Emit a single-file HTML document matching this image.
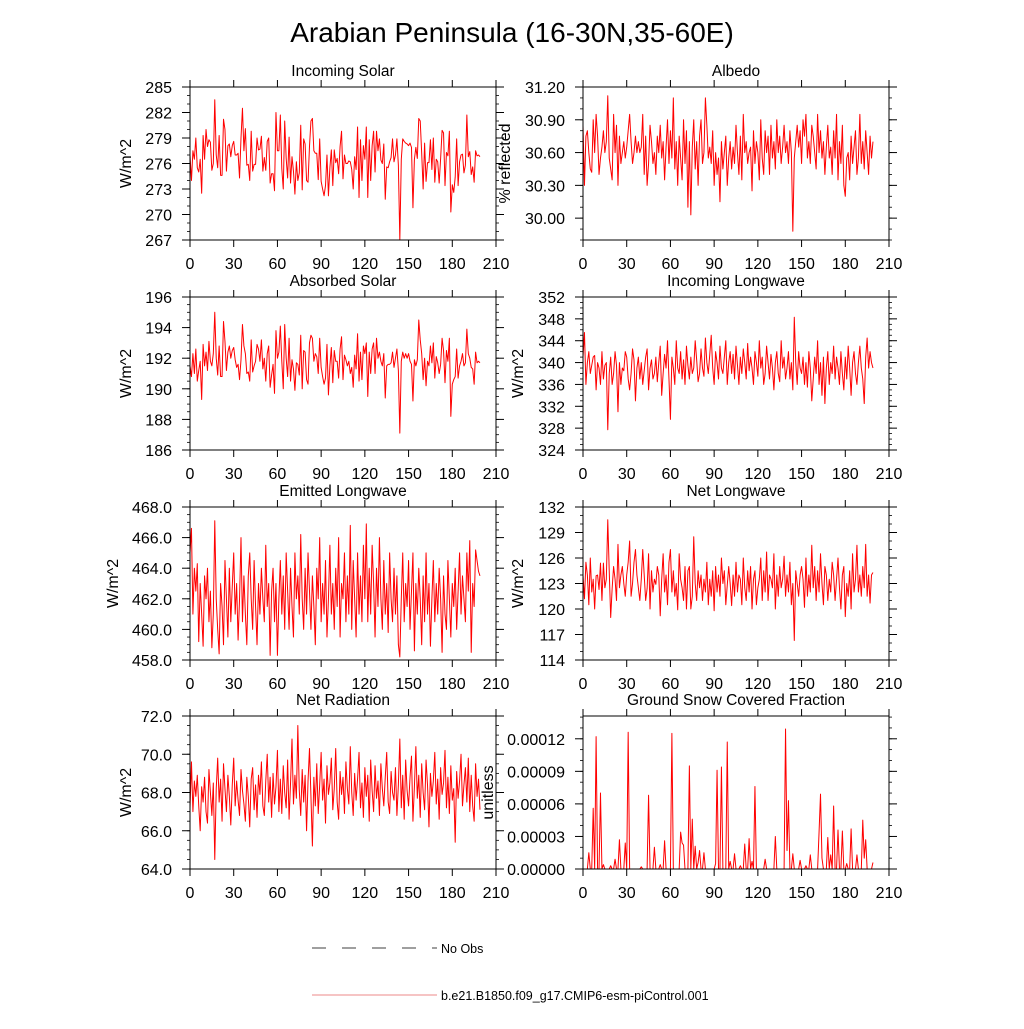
<!DOCTYPE html>
<html><head><meta charset="utf-8"><style>
html,body{margin:0;padding:0;background:#fff;}
svg text{font-family:"Liberation Sans",sans-serif;fill:#000;}
</style></head><body>
<svg id="c" width="1024" height="1024" viewBox="0 0 1024 1024" xmlns="http://www.w3.org/2000/svg">
<rect width="1024" height="1024" fill="#fff"/>
<text x="512" y="42" font-size="28" text-anchor="middle">Arabian Peninsula (16-30N,35-60E)</text>
<g id="panels"></g>
<g>
<line x1="312" y1="948" x2="437" y2="948" stroke="#000" stroke-width="0.8" stroke-dasharray="14,16"/>
<text x="441" y="953" font-size="12.5">No Obs</text>
<line x1="312" y1="995" x2="437" y2="995" stroke="#e88" stroke-width="1"/>
<text x="441" y="1000" font-size="12.5">b.e21.B1850.f09_g17.CMIP6-esm-piControl.001</text>
</g>
</svg>
<script>
const xTicks=[0,30,60,90,120,150,180,210];
const incomingSolar=[277,274,277.5,276.5,279,275.5,275,276.5,272.5,279.3,276.5,280,278,278.8,278.5,275.2,276,283.5,277,275.5,
279.3,274.6,274.6,281.2,280,275.1,278.1,278.3,276.8,278.1,278.6,277,277,277.2,274.3,279,282.5,277.5,280.1,275.8,
275.9,274,279.8,275.1,275.9,275.9,279,277.6,277.7,279.2,275.1,276.7,275.2,278.6,279,273.7,274.8,274.8,272.8,282,
277.5,277.5,281.7,275.4,273,281,276.6,274.3,279.1,273.7,276.8,275.1,272.4,276.2,274,274.9,280.5,272.9,278.9,278.3,
274,273.8,278,281,281.3,277.5,277.2,277.2,274.1,278.9,273.9,273,272.2,273.4,277,272.2,275.5,277.6,273.4,277.6,
276.1,276.6,274.8,278,279.8,274.2,277,276,276,276.3,276.2,275.3,273,276.8,275.3,280.3,272,278.8,274,278.1,
276.5,280.3,272,278.8,274,278.1,279.8,275,279.8,277.5,278.9,276.4,276,278.3,271.8,275.6,275.5,276.2,276.7,278.9,
276.2,277,278.9,275.8,267,276.5,278.9,278.6,278.4,278.3,
278.1,278.4,277.9,270.8,276.5,277.9,276.6,281.3,281,277.2,273,278.4,273.9,276.1,276.1,278.8,275.3,279,273.8,276.5,
276.2,273.7,276.6,279.9,279.6,273.4,277.3,276.9,279.8,270.3,273.5,272.6,274.4,278.9,273.4,276.2,277,277.1,274.9,275.8,
281.7,276.8,277.4,274.7,275.6,273.8,277.5,276.9,277,276.8];
const albedo=[30.85,30.3,30.75,30.8,30.6,30.45,30.42,30.9,30.6,30.95,30.75,30.4,30.55,30.65,30.8,30.6,30.7,31.12,30.55,30.45,
30.35,30.95,30.6,30.85,30.3,30.75,30.5,30.6,30.7,30.55,30.65,30.8,30.95,30.7,30.5,30.6,30.75,30.6,30.7,30.6,
30.65,30.95,30.4,30.75,30.3,30.5,30.85,30.7,30.5,30.6,30.4,30.75,30.6,30.85,30.55,30.7,30.35,30.65,30.9,30.5,
30.8,30.55,31.1,30.45,30.7,30.3,30.75,30.55,30.35,30.9,30.5,30.8,30.1,30.7,30.03,30.65,30.9,30.45,30.7,30.3,
30.75,30.9,30.5,30.6,31.1,30.85,30.55,30.65,30.5,30.8,30.3,30.6,30.4,30.55,30.15,30.7,30.45,30.6,30.75,30.3,
30.55,30.7,30.45,30.65,30.5,30.85,30.6,30.4,30.75,30.35,30.95,30.6,30.7,30.5,30.6,30.65,30.25,30.8,30.5,30.7,
30.6,30.35,30.9,30.55,30.4,30.8,30.6,30.75,30.4,30.85,30.55,30.7,30.45,30.9,30.6,30.75,30.5,30.65,30.85,30.6,
30.7,30.5,30.8,30.6,29.88,30.55,30.7,30.85,30.65,30.8,
30.5,30.9,30.75,30.95,30.55,30.7,30.5,30.85,30.75,30.6,30.45,30.95,30.6,30.8,30.55,30.7,30.4,30.65,30.85,30.55,
30.65,30.4,30.8,30.55,30.95,30.35,30.7,30.5,30.85,30.3,30.2,30.55,30.6,30.35,30.75,30.5,30.65,30.8,30.4,30.55,
30.95,30.5,30.7,30.45,30.8,30.6,30.4,30.75,30.55,30.7];
const absorbedSolar=[191.5,190.8,192.3,191,192.6,190.5,191.2,191.8,189.3,192.9,191.5,192.4,191.2,193.1,191.8,191.5,192.3,195,192,190.9,
192.8,190.8,190.8,194.4,193.1,191.2,192.4,192.8,192,192.5,192.7,191.9,191.4,191.6,190.6,191.9,194.2,192.8,192.3,191,
191.1,190.5,193.2,191.1,191.5,191.8,192.9,192.6,191.8,193.2,191.3,192,190.5,192.3,192.8,190.1,190.9,191.6,189.7,193.8,
192,192.4,194.1,191.8,190,194.2,192,190.8,193.3,190.5,191.9,191.3,189.9,191.7,191.6,190.9,193.5,190,192.5,192.4,
190.6,190.3,193,193.5,193.3,191.8,192.3,192.1,191,193.3,191.4,190.8,190.3,190.7,192.9,189.6,191.5,192.7,190.4,192.5,
191.8,191.8,190.7,192.6,193.4,190.6,192.2,191.9,191.5,191.8,191,191.4,190.1,192.2,191.3,193.6,190.5,192.4,190.6,192.8,
192.3,193,189.5,192.4,191,192.6,193,191,193.3,192,192.4,191.8,191.5,192.3,189.4,191.5,191.6,191.6,191.7,192.4,
191.4,192,192.6,191.2,187.1,191.8,192.4,192,192.3,192,
192.3,191.8,191.6,189.2,191.9,191.5,191.9,194.5,193.2,192.3,190.6,192,190.2,191.8,191.5,192.8,191.7,193,190.7,192.1,
191.7,191,191.6,193.3,192.5,190.4,192.5,191.8,193.3,188.2,190.3,190.6,190.8,192.6,190.7,191.5,191.8,192.3,191.5,191.7,
193.9,192.3,192,191.4,191.3,190.3,192.4,191.7,191.8,191.7];
const incomingLW=[341,345.5,336,340,342,338,339.5,341,341.3,335,340,339,336,342,337,339.5,340,327.7,338,341,
336,338,342,339.5,331,340,336,339,338.5,342,341,337,335,338,342.5,340.5,333,339,341,337,
340,336,338.5,341,342.5,335,339,340.5,337,338,341,336.5,340,343,334,338,341.5,339,344,337,
329.6,341,339,336,344,339,338,342,337,340.5,336,343,339.5,337,341,338,339,344,340.5,336.5,
338,342.5,339,337.5,344.5,340,338,341.5,345,339,336,342,340,337,343,339,338,341,344,336,
340,342,338,341.5,337,343,339.5,336,341,338,342.5,340,337,343.5,338.5,341,339,336,342,340,
337.5,344,339,341,336,338,343,340,337,341.5,339,335,340,342,338,336.5,344,339,341,337,
339,342,337,340,335,348.3,340,336,342,339,
338,341,336,340,335.5,342,339,333,337,341,338,344,336,340,334,341,332.5,339,342,336,
340,338,343,337,341,339,336,342,338,335,341,337,343,339,334,340,342,338,336,340,
343,339,337,332.5,341,344.5,339,342,340,339];
const emittedLW=[465,466.6,461,464,462.5,464.3,459.2,463,461,458.9,463.5,462,464,460.5,462.5,458.8,461,467.1,462,460,
458.4,463,461.5,459,464.5,462,459.5,464,460.5,462.8,465,461,463,459.3,462,466,460.5,463.5,461,459,
463.5,465,462,460,464.5,461.5,459,463,461,464,462,460.5,465.5,461.5,463,458.3,462.5,464,460.5,463,
458.3,462,464.5,461,463.5,460,465,462.5,460,464,461.5,459.5,465,462,463.5,461,466.2,462,460,464,
461,465,462.5,460,463.5,461.5,459,464,462,466,460.5,463,461,464.5,459.5,462,465.5,461,463,460,
464,461.5,466,459.5,463,462,465,460.5,463.5,461,466.8,460,464.5,462,459.5,465,461,463.5,460.5,465.5,
462,466.9,460.5,464,461,465.5,463,459.5,464,461.5,466,462,460,464.5,461,463,459.8,465,462,460.5,
464,461,463.5,459,458.2,462,465,460.5,463,461.5,
464.5,460,462.5,465,458.6,463,461,464,462,459,463.5,460.5,465,461,463,458.9,462,464.5,460.5,463,
461,464,462,458.5,463.5,461,460,464.5,462,459.5,463,461.5,464,460,462.5,465,461,463.5,462,460.5,
465,462.5,465.8,458.5,463,461.5,465.2,464.5,463.8,463.5];
const netLW=[124,121.2,125.5,124,120.5,126,122,123.5,120,123.9,124,122.3,125.4,121,125.4,122.5,123.5,130.5,124.5,119,
122.4,125,123.5,121,127.6,122.5,124,125,123,121.5,124,125.5,128,121.5,123,125.5,127,124,122.5,121,
123.5,127,124,121,122.4,126.5,120,124.5,122,123.5,122.9,125,124,119.2,123.5,126.5,122,124,120.5,125.5,
127,122,124.5,121.5,123,119.9,126.5,123.5,122.5,121,125,120,124.5,125,120,121.5,128.5,123,121,124.5,
122.5,124,121,123.5,122,125.5,120.5,123.5,121.5,124.5,119.8,125,122,124,121.5,126,123,124.5,120.5,122.8,
125,123,120.4,124,121.5,125.5,122,124,123.5,120.5,126,122.5,121,124.5,122,125,120,123.5,124.5,120.5,
122.5,123.5,126,121,124.5,122,126.7,121,124,123.5,122.5,126.5,120,124,121.5,125,122.5,123.5,126.2,121.5,
124,122,125.5,120.5,123,116.3,124.5,123,121.5,124,
125,123.5,120.2,126,121.5,124,122,127.5,122.5,125,121,124.5,122,126.5,123,120.5,125,124,121,123.5,
122,125.5,124,121,123.5,126,122.5,120,124,125,119.1,123,121.5,124.5,120,126.5,122,123.5,127.5,122,
124,121.5,125,122.5,127.6,121.5,124,120.7,124,124.3];
const netRad=[67.2,69.6,67,68.6,67.8,68.9,67.3,66,68.3,67.5,68.8,67,66.4,69.2,68,66.8,68.5,64.5,68.2,69.8,
67.5,68.7,66.5,69.5,68.2,67,68.9,67.8,66.3,68.4,69.8,67.3,68.6,67.6,66.8,69.2,68.1,67.4,66.5,68.8,
67.8,66.2,68.7,69.3,67.1,68.4,66.7,68.9,67.9,69.6,67.3,66.8,68.6,70,67.5,68.8,66.7,69,67.4,68.3,
70.2,67,68.7,66.9,69.4,68,67.2,69.7,66.6,68.5,70.8,67.4,68.9,67.7,71.5,68.1,66.8,69.2,67.5,68.9,
66,68.6,70.3,67.8,65.2,68.8,67.3,69.5,66.9,68.4,70.1,67.6,68.7,66.4,69.4,67.9,68.5,69.8,67.1,68.2,
70.3,67.5,66.6,69.1,67.9,68.8,66.9,69.6,68.2,67.4,70.4,68,66.8,69,67.6,68.7,70.1,67.2,68.5,66.7,
69.3,67.8,68.9,66.5,69.7,68.1,67,69.4,67.7,68.6,66.8,69.5,68.2,67.3,68.8,70.1,67.5,66.9,69.1,68,
67.6,69.3,66.8,68.4,70.8,67.2,68.9,66.6,69.7,68.1,
67.3,68.8,69.9,66.5,68.3,70.4,67.7,68.9,66.7,69.5,68,67.1,69.7,68.4,66.2,69,67.8,68.6,70.1,67.4,
68.7,66.6,69.3,67.9,68.5,70.2,67.2,68.8,66.9,69.4,67.6,68.2,65.4,69.1,67.7,68.6,70,67.3,68.4,69.3,
67.5,69.8,67,68.9,67.3,66.5,69.5,67.8,68.7,67.1];
// snow fraction (x1e-5): nonzero years and their values
const snowYears=[4,7,9,12,14,19,22,25,29,31,40,45,49,53,56,61,67,68,69,73,75,77,79,80,83,91,92,95,99,101,104,108,111,114,116,118,125,132,139,140,141,144,149,153,156,162,163,164,168,170,172,175,178,181,184,188,192,193,194,199];
const snowVals=[1.5,5.6,12.2,7,0.4,0.3,0.9,2.7,2.4,12.6,0.2,6.8,2,0.4,2.6,12.5,3.4,2.4,2.2,9.5,4.6,2.1,0.6,1.7,1.5,0.5,9.1,9.4,11.7,0.7,1.4,0.3,2.3,2.8,0.7,7.6,0.9,3,12.9,1.7,6.3,1.4,0.8,0.3,1.3,3.4,6.9,1,2.9,1.3,5.8,3.6,3.5,0.5,3.7,1.3,4.5,1,2.7,0.6];
const snowSeries=new Array(200).fill(0);
snowYears.forEach((y,i)=>{snowSeries[y]=snowVals[i]*1e-5;});

const panels=[
 {name:'incoming-solar',title:'Incoming Solar',ytitle:'W/m^2',col:0,row:0,min:267,max:285,ticks:[267,270,273,276,279,282,285],dec:0,minor:1,data:incomingSolar,ytx:131},
 {name:'albedo',title:'Albedo',ytitle:'% reflected',col:1,row:0,min:29.8,max:31.2,ticks:[30.0,30.3,30.6,30.9,31.2],dec:2,minor:0.1,data:albedo,ytx:510},
 {name:'absorbed-solar',title:'Absorbed Solar',ytitle:'W/m^2',col:0,row:1,min:186,max:196,ticks:[186,188,190,192,194,196],dec:0,minor:0.5,data:absorbedSolar,ytx:131},
 {name:'incoming-longwave',title:'Incoming Longwave',ytitle:'W/m^2',col:1,row:1,min:324,max:352,ticks:[324,328,332,336,340,344,348,352],dec:0,minor:1,data:incomingLW,ytx:523},
 {name:'emitted-longwave',title:'Emitted Longwave',ytitle:'W/m^2',col:0,row:2,min:458,max:468,ticks:[458,460,462,464,466,468],dec:1,minor:0.5,data:emittedLW,ytx:118},
 {name:'net-longwave',title:'Net Longwave',ytitle:'W/m^2',col:1,row:2,min:114,max:132,ticks:[114,117,120,123,126,129,132],dec:0,minor:1,data:netLW,ytx:523},
 {name:'net-radiation',title:'Net Radiation',ytitle:'W/m^2',col:0,row:3,min:64,max:72,ticks:[64,66,68,70,72],dec:1,minor:0.5,data:netRad,ytx:131},
 {name:'ground-snow-fraction',title:'Ground Snow Covered Fraction',ytitle:'unitless',col:1,row:3,min:0,max:0.000141,ticks:[0,0.00003,0.00006,0.00009,0.00012],dec:5,minor:0.00001,data:snowSeries,ytx:493}
];
const colX=[190,583], W=306, rowY=[87,297,507,716], H=153;
const NS='http://www.w3.org/2000/svg';
const root=document.getElementById('panels');
function el(tag,attrs,parent){const e=document.createElementNS(NS,tag);for(const k in attrs)e.setAttribute(k,attrs[k]);parent.appendChild(e);return e;}
panels.forEach(p=>{
  const x0=colX[p.col], y0=rowY[p.row];
  const xs=v=>x0+v/210*W;
  const ys=v=>y0+H-(v-p.min)/(p.max-p.min)*H;
  const g=el('g',{},root);
  
  
  const t=el('text',{x:x0+W/2,y:y0-11,'font-size':15.5,'text-anchor':'middle'},g);
  t.textContent=p.title;
  
  
  let d='';
  p.data.forEach((v,i)=>{d+=(i?'L':'M')+xs(i).toFixed(2)+','+ys(v).toFixed(2);});
  const ln=el('path',{d:d,fill:'none',stroke:'#ff0000','stroke-width':1,'stroke-linejoin':'round'},g);
  
  
  const fr=el('rect',{x:x0,y:y0,width:W,height:H,fill:'none',stroke:'#000','stroke-width':1},g);
  
  
  xTicks.forEach(v=>{
    const X=xs(v);
    el('line',{x1:X,y1:y0+H,x2:X,y2:y0+H+7,stroke:'#000'},g);
    el('line',{x1:X,y1:y0,x2:X,y2:y0-7,stroke:'#000'},g);
    const tl=el('text',{x:X,y:y0+H+29,'font-size':16,'text-anchor':'middle'},g);
    tl.textContent=String(v);
    
    
  });
  for(let v=p.min;v<=p.max+1e-12;v+=p.minor){
    const Y=ys(v);
    el('line',{x1:x0,y1:Y,x2:x0-3,y2:Y,stroke:'#000','stroke-width':0.8},g);
    el('line',{x1:x0+W,y1:Y,x2:x0+W+3,y2:Y,stroke:'#000','stroke-width':0.8},g);
  }
  p.ticks.forEach(v=>{
    const Y=ys(v);
    el('line',{x1:x0,y1:Y,x2:x0-8,y2:Y,stroke:'#000'},g);
    el('line',{x1:x0+W,y1:Y,x2:x0+W+8,y2:Y,stroke:'#000'},g);
    const tl=el('text',{x:x0-18,y:Y+6,'font-size':16,'text-anchor':'end'},g);
    tl.textContent=v.toFixed(p.dec);
    
    
  });
  const yt=el('text',{x:p.ytx,y:y0+H/2,'font-size':16,'text-anchor':'middle',transform:'rotate(-90 '+p.ytx+' '+(y0+H/2)+')'},g);
  yt.textContent=p.ytitle;
  
  
});
</script>
</body></html>
